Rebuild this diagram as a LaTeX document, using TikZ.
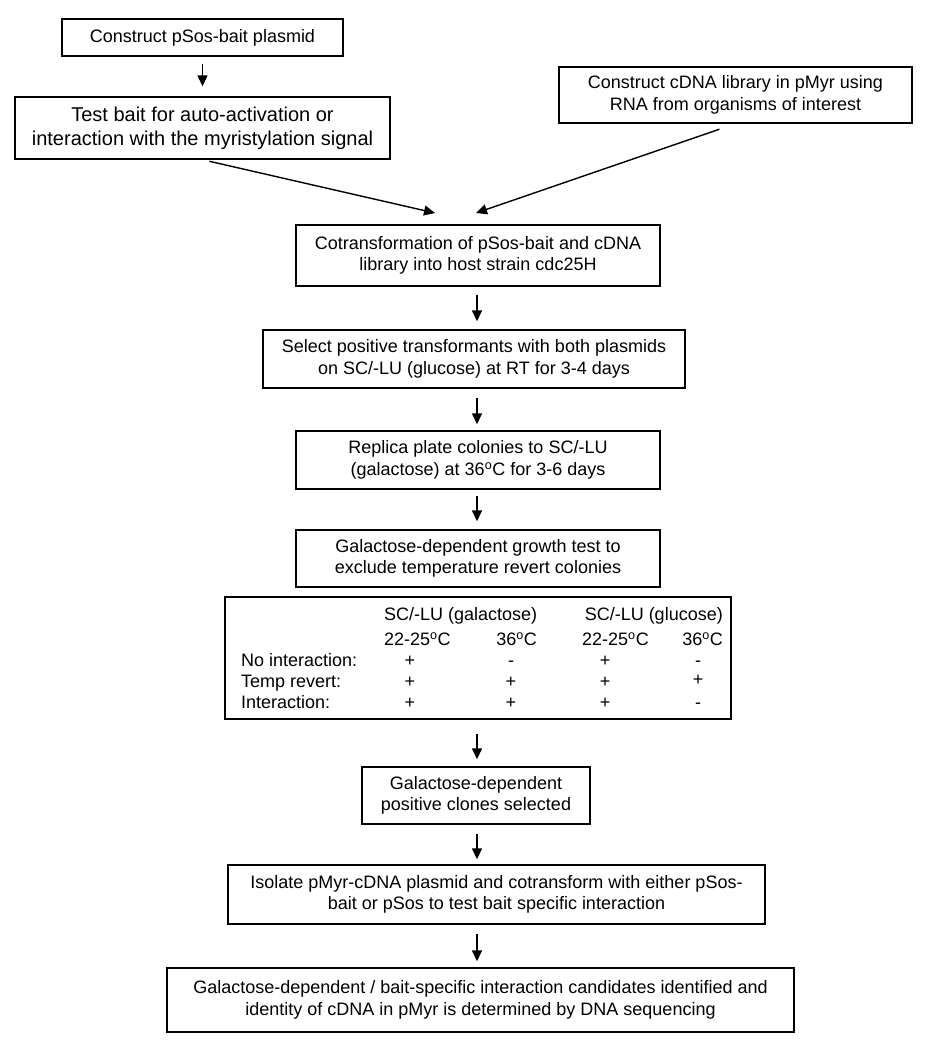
\documentclass[tikz,border=0pt]{standalone}
\usepackage{fontspec}
\setmainfont{Liberation Sans}
\usetikzlibrary{arrows.meta}
\begin{document}
\begin{tikzpicture}[x=1pt,y=-1pt,
  box/.style={draw, line width=1.4pt, inner sep=0pt, align=center, font=\fontsize{18}{21.5}\selectfont},
  arr/.style={line width=1.4pt, -{Triangle[length=11pt,width=10pt]}},
  txt/.style={inner sep=0pt, font=\fontsize{18}{21.5}\selectfont}]
\useasboundingbox[fill=white] (0,0) rectangle (925,1047);

\node[box, minimum width=281pt, minimum height=37pt] (b1) at (202.5,37.5) {Construct pSos-bait plasmid};
\node[box, minimum width=375pt, minimum height=62pt, font=\fontsize{20}{24}\selectfont] (b2) at (202.5,128) {Test bait for auto-activation or\\interaction with the myristylation signal};
\node[box, minimum width=353pt, minimum height=56pt] (b3) at (735.5,95) {Construct cDNA library in pMyr using\\RNA from organisms of interest};
\node[box, minimum width=364pt, minimum height=61pt] (b4) at (478,255.5) {Cotransformation of pSos-bait and cDNA\\library into host strain cdc25H};
\node[box, minimum width=422pt, minimum height=58pt] (b5) at (474,359) {Select positive transformants with both plasmids\\on SC/-LU (glucose) at RT for 3-4 days};
\node[box, minimum width=364pt, minimum height=58pt] (b6) at (478,460) {Replica plate colonies to SC/-LU\\(galactose) at 36\textsuperscript{o}C for 3-6 days};
\node[box, minimum width=364pt, minimum height=57pt] (b7) at (478,558.5) {Galactose-dependent growth test to\\exclude temperature revert colonies};
\node[box, minimum width=506pt, minimum height=122pt] (tb) at (478,658) {};
\node[box, minimum width=228pt, minimum height=57pt] (b8) at (476,795.5) {Galactose-dependent\\positive clones selected};
\node[box, minimum width=537pt, minimum height=59pt] (b9) at (496.5,894.5) {Isolate pMyr-cDNA plasmid and cotransform with either pSos-\\bait or pSos to test bait specific interaction};
\node[box, minimum width=627pt, minimum height=64pt] (b10) at (480.5,1000) {Galactose-dependent / bait-specific interaction candidates identified and\\identity of cDNA in pMyr is determined by DNA sequencing};

% table contents
\node[txt, anchor=base west] (h1) at (384,620.5) {SC/-LU (galactose)};
\node[txt, anchor=base east] (h2) at (723,620.5) {SC/-LU (glucose)};
\node[txt, anchor=base west] (t1) at (384,645.5) {22-25\textsuperscript{o}C};
\node[txt, anchor=base east] (t2) at (537,645.5) {36\textsuperscript{o}C};
\node[txt, anchor=base west] (t3) at (582,645.5) {22-25\textsuperscript{o}C};
\node[txt, anchor=base east] (t4) at (723,645.5) {36\textsuperscript{o}C};
\node[txt, anchor=base west] (r1) at (241,666.5) {No interaction:};
\node[txt, anchor=base west] (r2) at (241,687) {Temp revert:};
\node[txt, anchor=base west] (r3) at (241,708.5) {Interaction:};
\node[txt, anchor=base] (c11) at (410,666.5) {+};
\node[txt, anchor=base] (c12) at (511,666.5) {-};
\node[txt, anchor=base] (c13) at (605,666.5) {+};
\node[txt, anchor=base] (c14) at (698,666.5) {-};
\node[txt, anchor=base] (c21) at (410,687) {+};
\node[txt, anchor=base] (c22) at (511,687) {+};
\node[txt, anchor=base] (c23) at (605,687) {+};
\node[txt, anchor=base] (c24) at (698,685) {+};
\node[txt, anchor=base] (c31) at (410,708.5) {+};
\node[txt, anchor=base] (c32) at (511,708.5) {+};
\node[txt, anchor=base] (c33) at (605,708.5) {+};
\node[txt, anchor=base] (c34) at (698,708.5) {-};

% connectors
\coordinate (cx) at (477,0);
\coordinate (m1) at (435,213);
\coordinate (m2) at (476,213);
\draw[arr, shorten <=7pt, shorten >=10pt] (b1) -- (b2);
\draw[arr, shorten <=7pt] (b2.south) -- (m1);
\draw[arr, shorten <=17pt] (b3.south) -- (m2);
\draw[arr, shorten <=8pt, shorten >=8pt] (b4.south -| cx) -- (b5.north -| cx);
\draw[arr, shorten <=9pt, shorten >=6pt] (b5.south -| cx) -- (b6.north -| cx);
\draw[arr, shorten <=6pt, shorten >=8pt] (b6.south -| cx) -- (b7.north -| cx);
\draw[arr, shorten <=14pt, shorten >=7pt] (tb.south -| cx) -- (b8.north -| cx);
\draw[arr, shorten <=9pt, shorten >=5pt] (b8.south -| cx) -- (b9.north -| cx);
\draw[arr, shorten <=9pt, shorten >=6pt] (b9.south -| cx) -- (b10.north -| cx);
\end{tikzpicture}
\end{document}
